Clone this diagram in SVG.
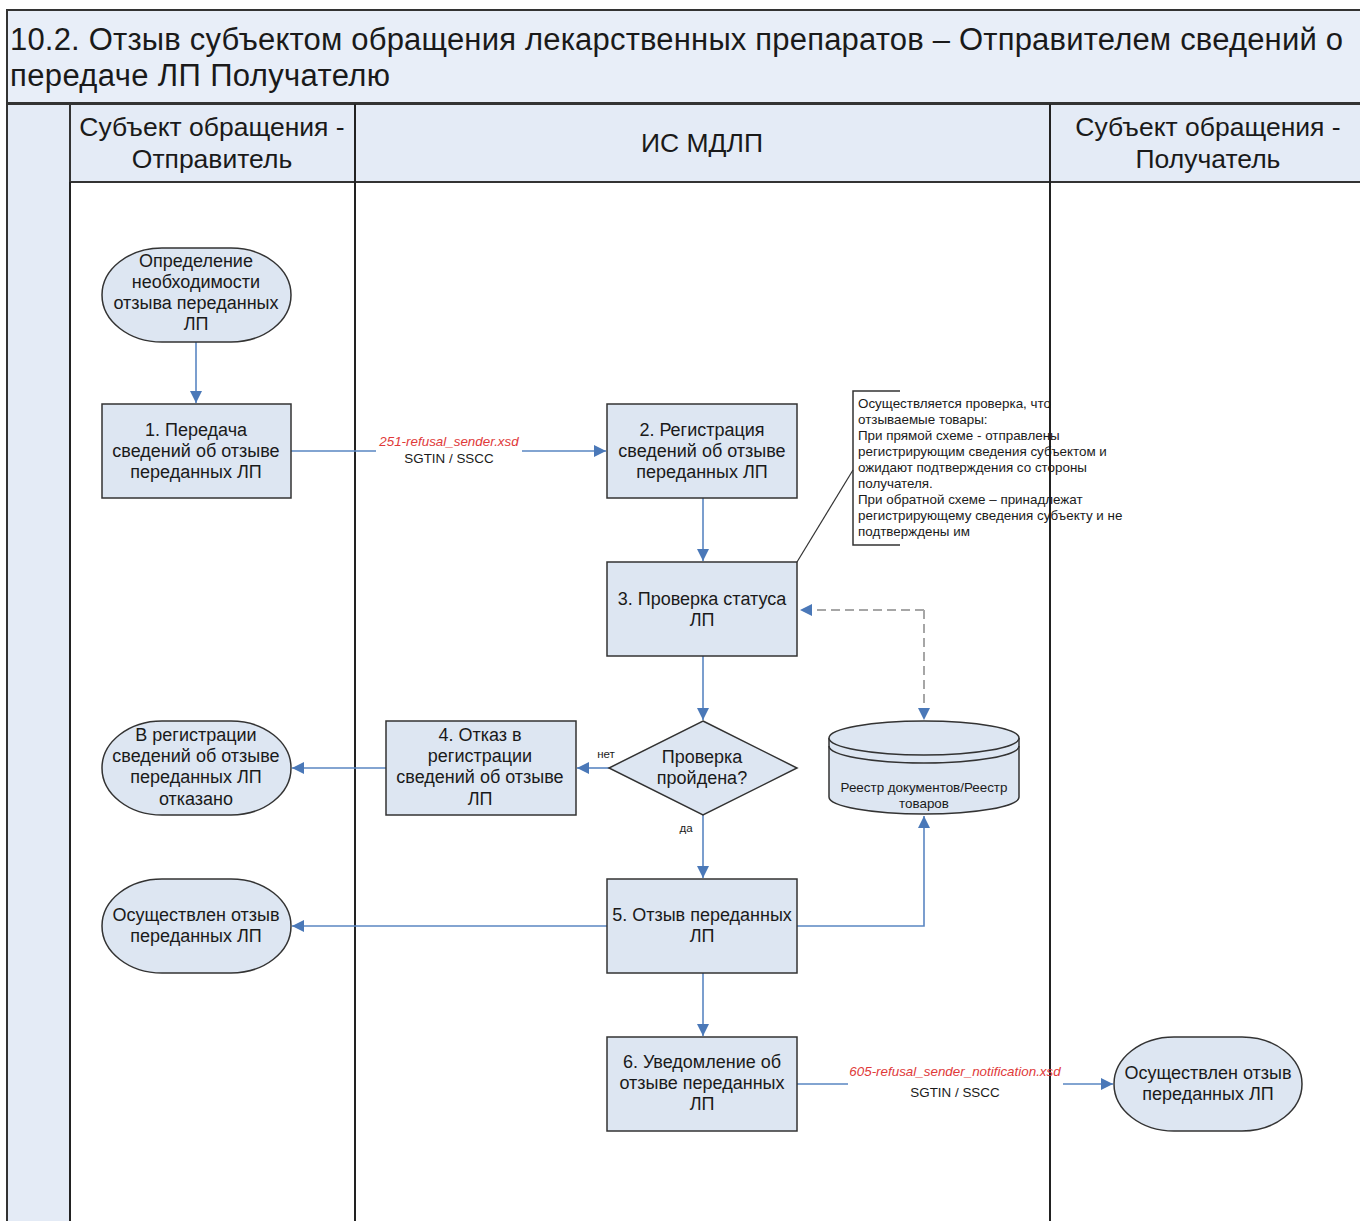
<svg xmlns="http://www.w3.org/2000/svg" width="1360" height="1221" viewBox="0 0 1360 1221">
<defs>
<style>
.t{font-family:"Liberation Sans",Arial,sans-serif;fill:#1a1a1a}
.n{font-size:18px;text-anchor:middle}
.h{font-size:26.5px;text-anchor:middle}
.box{fill:#dde6f2;stroke:#333;stroke-width:1.5}
.c{fill:none;stroke:#5a86c2;stroke-width:1.6}
.d{fill:none;stroke:#a6a6a6;stroke-width:2;stroke-dasharray:9,5}
.lbl{font-size:13.4px;text-anchor:middle}
.red{fill:#e03a3a;font-style:italic}
.ann{font-size:13.4px}
</style>
<marker id="a" viewBox="0 0 10 10" refX="10" refY="5" markerWidth="12" markerHeight="12" markerUnits="userSpaceOnUse" orient="auto"><path d="M0,0 L10,5 L0,10 z" fill="#4a78b8"/></marker>
</defs>
<g id="frame">
<rect x="7" y="10" width="1360" height="1220" fill="#fff" stroke="#333" stroke-width="2"/>
<rect x="7" y="10" width="1360" height="93" fill="#e8eef8" stroke="#333" stroke-width="2"/>
<rect x="7" y="104" width="63" height="1120" fill="#e4ebf6" stroke="#333" stroke-width="2"/>
<rect x="70" y="104" width="1300" height="78" fill="#e4ebf6" stroke="#333" stroke-width="2"/>
<line x1="355" y1="104" x2="355" y2="1221" stroke="#222" stroke-width="2"/>
<line x1="1050" y1="104" x2="1050" y2="1221" stroke="#222" stroke-width="2"/>
<line x1="70" y1="182" x2="70" y2="1221" stroke="#222" stroke-width="2"/>
<text class="t" x="10" y="50" font-size="31" textLength="1333">10.2. Отзыв субъектом обращения лекарственных препаратов – Отправителем сведений о</text>
<text class="t" x="10" y="86" font-size="31" textLength="380">передаче ЛП Получателю</text>
<text class="t h" x="212" y="136">Субъект обращения -</text>
<text class="t h" x="212" y="168">Отправитель</text>
<text class="t h" x="702" y="152">ИС МДЛП</text>
<text class="t h" x="1208" y="136">Субъект обращения -</text>
<text class="t h" x="1208" y="168">Получатель</text>
</g>
<g id="connectors">
<path class="c" d="M196,342 V403" marker-end="url(#a)"/>
<path class="c" d="M291,451 H376 M522,451 H606" marker-end="url(#a)"/>
<path class="c" d="M703,498 V561" marker-end="url(#a)"/>
<path class="c" d="M703,656 V720" marker-end="url(#a)"/>
<path class="c" d="M609,768 H577" marker-end="url(#a)"/>
<path class="c" d="M386,768 H292" marker-end="url(#a)"/>
<path class="c" d="M703,815 V878" marker-end="url(#a)"/>
<path class="c" d="M607,926 H292" marker-end="url(#a)"/>
<path class="c" d="M797,926 H924 V816" marker-end="url(#a)"/>
<path class="c" d="M703,973 V1036" marker-end="url(#a)"/>
<path class="c" d="M797,1084 H848 M1063,1084 H1113" marker-end="url(#a)"/>
<path class="d" d="M924,610 H800" marker-end="url(#a)"/>
<path class="d" d="M924,610 V720" marker-end="url(#a)"/>
<text class="t lbl red" x="449" y="446">251-refusal_sender.xsd</text>
<text class="t lbl" x="449" y="463">SGTIN / SSCC</text>
<text class="t lbl red" x="955" y="1076">605-refusal_sender_notification.xsd</text>
<text class="t lbl" x="955" y="1097">SGTIN / SSCC</text>
<text class="t" x="606" y="758" font-size="11.5" text-anchor="middle">нет</text>
<text class="t" x="686" y="832" font-size="11.5" text-anchor="middle">да</text>
</g>
<g id="start">
<rect class="box" x="102" y="248" width="189" height="94" rx="60" ry="47"/>
<text class="t n" x="196" y="267">Определение</text>
<text class="t n" x="196" y="288">необходимости</text>
<text class="t n" x="196" y="309">отзыва переданных</text>
<text class="t n" x="196" y="330">ЛП</text>
</g>
<g id="step1">
<rect class="box" x="102" y="404" width="189" height="94"/>
<text class="t n" x="196" y="436">1. Передача</text>
<text class="t n" x="196" y="457">сведений об отзыве</text>
<text class="t n" x="196" y="478">переданных ЛП</text>
</g>
<g id="step2">
<rect class="box" x="607" y="404" width="190" height="94"/>
<text class="t n" x="702" y="436">2. Регистрация</text>
<text class="t n" x="702" y="457">сведений об отзыве</text>
<text class="t n" x="702" y="478">переданных ЛП</text>
</g>
<g id="step3">
<rect class="box" x="607" y="562" width="190" height="94"/>
<text class="t n" x="702" y="605">3. Проверка статуса</text>
<text class="t n" x="702" y="626">ЛП</text>
</g>
<g id="note">
<path d="M900,391 H853 V545 H900" fill="none" stroke="#333" stroke-width="1.5"/>
<line x1="797" y1="562" x2="853" y2="470" stroke="#333" stroke-width="1.2"/>
<text class="t ann"><tspan x="858" y="408">Осуществляется проверка, что</tspan><tspan x="858" y="424">отзываемые товары:</tspan><tspan x="858" y="440">При прямой схеме - отправлены</tspan><tspan x="858" y="456">регистрирующим сведения субъектом и</tspan><tspan x="858" y="472">ожидают подтверждения со стороны</tspan><tspan x="858" y="488">получателя.</tspan><tspan x="858" y="504">При обратной схеме – принадлежат</tspan><tspan x="858" y="520">регистрирующему сведения субъекту и не</tspan><tspan x="858" y="536">подтверждены им</tspan></text>
</g>
<g id="decision">
<polygon class="box" points="703,721 797,768 703,815 609,768"/>
<text class="t n" x="702" y="763">Проверка</text>
<text class="t n" x="702" y="784">пройдена?</text>
</g>
<g id="step4">
<rect class="box" x="386" y="721" width="190" height="94"/>
<text class="t n" x="480" y="741">4. Отказ в</text>
<text class="t n" x="480" y="762">регистрации</text>
<text class="t n" x="480" y="783">сведений об отзыве</text>
<text class="t n" x="480" y="805">ЛП</text>
</g>
<g id="refused">
<rect class="box" x="102" y="721" width="189" height="94" rx="60" ry="47"/>
<text class="t n" x="196" y="741">В регистрации</text>
<text class="t n" x="196" y="762">сведений об отзыве</text>
<text class="t n" x="196" y="783">переданных ЛП</text>
<text class="t n" x="196" y="805">отказано</text>
</g>
<g id="registry">
<path class="box" d="M829,738 V797 A95,17 0 0 0 1019,797 V738"/>
<ellipse class="box" cx="924" cy="738" rx="95" ry="17"/>
<path d="M829,746 A95,17 0 0 0 1019,746" fill="none" stroke="#333" stroke-width="1.5"/>
<text class="t" x="924" y="792" font-size="13.4" text-anchor="middle">Реестр документов/Реестр</text>
<text class="t" x="924" y="808" font-size="13.4" text-anchor="middle">товаров</text>
</g>
<g id="step5">
<rect class="box" x="607" y="879" width="190" height="94"/>
<text class="t n" x="702" y="921">5. Отзыв переданных</text>
<text class="t n" x="702" y="942">ЛП</text>
</g>
<g id="done">
<rect class="box" x="102" y="879" width="189" height="94" rx="60" ry="47"/>
<text class="t n" x="196" y="921">Осуществлен отзыв</text>
<text class="t n" x="196" y="942">переданных ЛП</text>
</g>
<g id="step6">
<rect class="box" x="607" y="1037" width="190" height="94"/>
<text class="t n" x="702" y="1068">6. Уведомление об</text>
<text class="t n" x="702" y="1089">отзыве переданных</text>
<text class="t n" x="702" y="1110">ЛП</text>
</g>
<g id="done2">
<rect class="box" x="1114" y="1037" width="188" height="94" rx="60" ry="47"/>
<text class="t n" x="1208" y="1079">Осуществлен отзыв</text>
<text class="t n" x="1208" y="1100">переданных ЛП</text>
</g>
</svg>
